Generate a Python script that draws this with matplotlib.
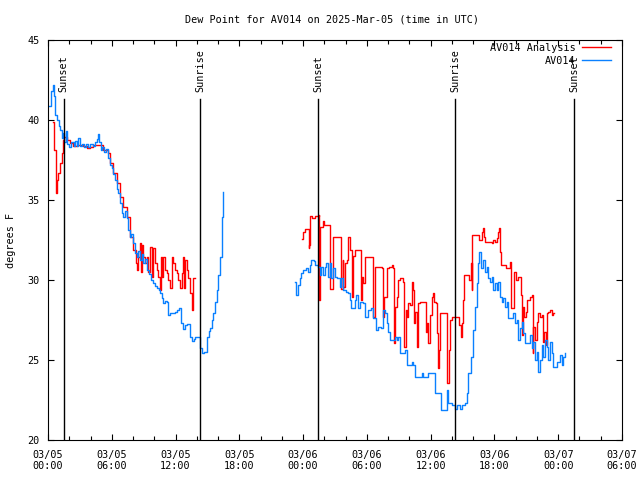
import matplotlib
matplotlib.use('Agg')
import matplotlib.pyplot as plt
import matplotlib.transforms as mtransforms

plt.rcParams['font.family'] = ['DejaVu Sans Mono']

# hours since 2025-03-05 00:00 UTC, dew point in deg F
red_hours_a = [0.50, 0.61, 0.75, 0.87, 0.97, 1.13, 1.29, 1.38, 1.51, 1.76, 2.07, 2.38, 2.70, 3.01,
               3.32, 3.64, 3.95, 4.26, 4.89, 5.20, 5.67, 5.83, 6.14, 6.46, 6.77, 7.08, 7.40, 7.71,
               8.02, 8.28, 8.34, 8.49, 8.65, 8.72, 8.81, 8.97, 9.12, 9.29, 9.44, 9.60, 9.76, 9.91,
               10.07, 10.23, 10.38, 10.54, 10.63, 10.70, 10.85, 11.01, 11.17, 11.32, 11.48, 11.64,
               11.79, 11.95, 12.11, 12.26, 12.42, 12.58, 12.67, 12.79, 12.89, 13.05, 13.20, 13.36,
               13.52, 13.61, 13.83]
red_vals_a = [39.89, 38.1, 35.42, 36.25, 36.67, 37.29, 37.92, 38.75, 38.96, 38.75, 38.54, 38.38, 38.44, 38.44,
              38.38, 38.23, 38.33, 38.44, 38.44, 38.13, 37.92, 37.29, 36.67, 36.04, 35.21, 34.58, 33.96, 32.71,
              31.88, 31.04, 30.63, 31.46, 32.29, 30.52, 32.19, 31.46, 31.04, 31.46, 30.52, 32.08, 30.21, 31.98,
              31.04, 30.63, 30.21, 29.38, 31.46, 30.21, 31.46, 30.63, 30.42, 30.0, 29.48, 31.46,
              31.04, 30.63, 30.42, 30.0, 29.48, 30.42, 31.46, 29.48, 31.25, 30.63, 30.1, 29.17,
              28.13, 30.1, 30.1]

red_hours_b = [23.92, 24.02, 24.18, 24.49, 24.51, 24.58, 24.65, 24.81, 25.12, 25.47, 25.49, 25.59, 25.84,
               25.96, 26.46, 26.53, 26.84, 27.47, 27.54, 27.72, 27.78, 27.94, 28.10, 28.25, 28.41, 28.57,
               28.72, 28.88, 29.35, 29.42, 29.57, 29.66, 29.82, 30.45, 30.55, 30.60, 30.76, 31.39, 31.49,
               31.61, 31.86, 32.11, 32.34, 32.49, 32.55, 32.64, 32.80, 32.95, 33.11, 33.42, 33.52, 33.65,
               33.74, 33.89, 34.05, 34.21, 34.31, 34.43, 34.52, 34.68, 34.84, 34.99, 35.46, 35.56, 35.68,
               35.78, 35.94, 36.10, 36.19, 36.31, 36.50, 36.62, 36.72, 36.81, 36.88, 37.51, 37.56, 37.72,
               37.82, 37.98, 38.60, 38.69, 38.82, 38.92, 39.07, 39.16, 39.54, 39.63, 39.76, 39.86, 39.92,
               40.48, 40.57, 40.80, 40.89, 41.02, 41.11, 41.58, 41.74, 41.89, 42.05, 42.21, 42.36, 42.45,
               42.52, 42.59, 42.99, 43.09, 43.30, 43.46, 43.56, 43.77, 43.84, 44.03, 44.24, 44.40, 44.47,
               44.56, 44.66, 44.78, 44.97, 45.09, 45.34, 45.50, 45.59, 45.65, 45.81, 45.97, 46.12, 46.28,
               46.44, 46.59, 46.69, 46.85, 46.91, 47.07, 47.22, 47.38, 47.54, 47.63]
red_vals_b = [32.54, 33.02, 33.17, 33.17, 31.98, 32.19, 34.0, 33.86, 34.0, 34.06, 28.75, 33.33, 33.71,
              33.44, 33.44, 29.42, 32.67, 32.67, 29.42, 31.25, 29.58, 31.04, 31.25, 32.71, 31.88, 28.96,
              31.5, 31.88, 31.88, 28.75, 30.21, 29.79, 31.46, 31.46, 29.58, 27.71, 30.83, 30.73, 27.71,
              28.96, 30.73, 30.83, 30.94, 30.73, 26.04, 28.33, 28.96, 30.0, 30.1, 29.89, 25.83, 28.13,
              27.71, 28.54, 28.44, 29.89, 29.38, 27.29, 28.02, 25.83, 28.54, 28.64, 28.64, 26.77, 27.29,
              26.04, 27.81, 28.96, 29.21, 28.64, 28.54, 26.67, 24.48, 25.63, 27.92, 27.92, 23.54, 25.63,
              27.5, 27.71, 27.71, 27.19, 26.46, 27.29, 28.75, 30.31, 30.31, 30.0, 31.04, 29.38, 32.81,
              32.81, 32.5, 33.02, 33.23, 32.71, 32.4, 32.4, 32.29, 32.5, 32.4, 32.6, 33.02, 33.23,
              31.77, 30.94, 30.94, 30.73, 30.73, 31.14, 28.23, 28.23, 30.52, 30.0, 30.21, 30.21, 29.06,
              26.56, 28.33, 27.71, 28.02, 28.75, 28.96, 29.06, 25.42, 27.08, 26.25, 27.39, 27.92, 27.71,
              27.81, 26.14, 26.77, 25.94, 27.92, 28.02, 28.13, 27.81, 27.92, 27.92]

blue_hours_a = [0.10, 0.30, 0.44, 0.55, 0.70, 0.85, 1.00, 1.13, 1.30, 1.41, 1.55, 1.69, 1.80, 2.00,
                2.20, 2.40, 2.54, 2.70, 2.82, 3.00, 3.20, 3.40, 3.60, 3.76, 3.95, 4.20, 4.40, 4.60,
                4.70, 4.80, 4.95, 5.08, 5.25, 5.46, 5.64, 5.83, 5.99, 6.15, 6.30, 6.45, 6.61, 6.80,
                6.95, 7.08, 7.25, 7.40, 7.55, 7.71, 7.85, 8.02, 8.15, 8.34, 8.50, 8.65, 8.80, 8.97,
                9.10, 9.29, 9.50, 9.70, 9.91, 10.05, 10.23, 10.40, 10.54, 10.70, 10.85, 11.00, 11.17,
                11.32, 11.48, 11.76, 11.95, 12.11, 12.32, 12.48, 12.67, 12.89, 13.10, 13.36, 13.52,
                13.70, 13.83, 14.14, 14.30, 14.46, 14.68, 14.93, 15.10, 15.24, 15.40, 15.55, 15.70,
                15.87, 16.00, 16.18, 16.34, 16.49]
blue_vals_a = [40.9, 41.8, 42.2, 41.5, 40.3, 40.0, 39.6, 39.4, 38.9, 39.2, 38.6, 39.3, 38.5, 38.3,
               38.6, 38.4, 38.7, 38.4, 38.9, 38.4, 38.5, 38.3, 38.5, 38.3, 38.5, 38.4, 38.6, 38.8,
               39.1, 38.6, 38.1, 38.3, 38.0, 38.2, 37.6, 37.2, 37.0, 36.6, 36.25, 35.7, 35.44, 34.8,
               34.2, 33.96, 34.3, 33.88, 33.1, 32.71, 32.9, 32.31, 31.7, 31.46, 31.8, 31.25, 31.6, 31.06,
               31.3, 30.63, 30.4, 30.0, 29.81, 29.6, 29.5, 29.4, 29.19, 28.9, 28.56, 28.7, 28.63,
               27.81, 27.94, 27.94, 28.0, 28.13, 28.25, 27.31, 26.94, 27.19, 27.25, 26.44, 26.19,
               26.3, 26.44, 26.44, 25.75, 25.46, 25.52, 26.46, 26.8, 27.0, 27.5, 27.94, 28.6,
               29.38, 30.3, 31.46, 33.96, 35.52]

blue_hours_b = [23.21, 23.36, 23.52, 23.68, 23.83, 23.99, 24.30, 24.46, 24.62, 24.77, 25.02, 25.15,
                25.40, 25.56, 25.71, 25.87, 26.03, 26.18, 26.34, 26.50, 26.65, 26.81, 26.97, 27.22,
                27.44, 27.59, 27.75, 28.06, 28.22, 28.38, 28.53, 28.85, 29.00, 29.16, 29.32, 29.63,
                29.79, 30.10, 30.41, 30.57, 30.88, 31.04, 31.35, 31.51, 31.67, 31.86, 31.98, 32.17,
                32.46, 32.62, 32.80, 32.95, 33.11, 33.42, 33.58, 33.74, 34.05, 34.21, 34.37, 34.53,
                34.99, 35.15, 35.31, 35.78, 36.25, 36.41, 36.88, 36.97, 37.35, 37.51, 37.66, 37.98,
                38.29, 38.50, 38.76, 38.92, 39.23, 39.39, 39.54, 39.79, 40.01, 40.17, 40.33, 40.48,
                40.57, 40.73, 40.95, 41.11, 41.27, 41.42, 41.58, 41.74, 41.89, 42.05, 42.21, 42.36,
                42.52, 42.68, 42.83, 42.99, 43.15, 43.30, 43.62, 43.77, 43.93, 44.09, 44.24, 44.40,
                44.56, 44.71, 44.87, 45.18, 45.34, 45.50, 45.65, 45.81, 45.97, 46.12, 46.28, 46.44,
                46.59, 46.75, 46.91, 47.07, 47.22, 47.38, 47.54, 47.86, 48.17, 48.33, 48.48, 48.64]
blue_vals_b = [29.89, 29.06, 29.69, 30.13, 30.44, 30.63, 30.75, 30.52, 30.94, 31.25, 31.21, 30.94,
               30.83, 30.31, 30.83, 30.31, 30.83, 31.04, 30.21, 31.04, 30.11, 30.73, 30.21, 30.11,
               29.58, 30.11, 29.38, 29.27, 29.17, 28.75, 28.23, 28.75, 29.06, 28.23, 28.64, 28.54,
               27.71, 28.13, 28.23, 27.61, 26.88, 27.08, 26.98, 28.13, 27.92, 27.29, 26.77, 26.25,
               26.25, 26.46, 26.25, 26.46, 25.42, 25.42, 25.63, 24.69, 24.69, 24.89, 24.69, 23.96,
               23.96, 24.17, 23.96, 24.21, 24.21, 22.92, 22.92, 21.88, 21.88, 23.13, 22.29, 22.19,
               21.92, 22.19, 21.92, 22.19, 22.29, 22.92, 24.17, 25.21, 26.88, 28.33, 29.79, 31.04,
               31.73, 30.73, 31.25, 30.52, 30.83, 30.11, 29.89, 30.21, 29.38, 29.79, 29.38, 29.89,
               28.96, 28.64, 28.86, 28.33, 28.64, 27.61, 27.61, 27.92, 27.29, 27.5, 26.25, 26.98,
               27.39, 26.67, 26.04, 26.04, 26.56, 25.73, 26.14, 25.0, 25.52, 24.27, 25.0, 25.94,
               25.21, 26.25, 25.83, 25.0, 26.14, 25.42, 24.58, 24.89, 25.31, 24.69, 25.21, 25.42]

sun_events = [1.46, 14.30, 25.40, 38.30, 49.50]
sun_labels = ['Sunset', 'Sunrise', 'Sunset', 'Sunrise', 'Sunset']

tick_hours = [0, 6, 12, 18, 24, 30, 36, 42, 48, 54]
tick_labels = ['03/05\n00:00', '03/05\n06:00', '03/05\n12:00', '03/05\n18:00', '03/06\n00:00',
               '03/06\n06:00', '03/06\n12:00', '03/06\n18:00', '03/07\n00:00', '03/07\n06:00']

red = '#ff0000'
blue = '#0a80ff'
fs = 7.3

fig = plt.figure(figsize=(6.4, 4.8), dpi=100)
ax = fig.add_axes([48 / 640, 40 / 480, 574 / 640, 400 / 480])

ax.plot(red_hours_a, red_vals_a, color=red, lw=1.0, drawstyle='steps-post', label='AV014 Analysis')
ax.plot(red_hours_b, red_vals_b, color=red, lw=1.0, drawstyle='steps-post')
ax.plot(blue_hours_a, blue_vals_a, color=blue, lw=1.0, drawstyle='steps-post', label='AV014')
ax.plot(blue_hours_b, blue_vals_b, color=blue, lw=1.0, drawstyle='steps-post')

trans = mtransforms.blended_transform_factory(ax.transData, ax.transAxes)
for t, lab in zip(sun_events, sun_labels):
    ax.plot([t, t], [0, 0.8525], color='black', lw=1.0, transform=trans)
    ax.text(t, 0.87, lab, rotation=90, ha='center', va='bottom', fontsize=fs, transform=trans)

ax.set_xlim(0, 54)
ax.set_ylim(20, 45)
ax.set_xticks(tick_hours)
ax.set_xticklabels(tick_labels)
ax.set_xticks(range(0, 55, 2), minor=True)
ax.set_yticks([20, 25, 30, 35, 40, 45])
ax.tick_params(which='both', direction='in', top=True, right=True, labelsize=fs, width=0.8)
ax.tick_params(which='major', length=4.5)
ax.tick_params(which='minor', length=3)
ax.tick_params(axis='x', pad=7)
ax.tick_params(axis='y', pad=6)

fig.text(11 / 640, 0.5, 'degrees F', rotation=90, ha='center', va='center', fontsize=fs)
fig.text(332 / 640, 1 - 19 / 480, 'Dew Point for AV014 on 2025-Mar-05 (time in UTC)',
         ha='center', va='center', fontsize=fs)

ax.legend(loc='upper right', bbox_to_anchor=(611 / 640, 1 - 43 / 480), bbox_transform=fig.transFigure,
          frameon=False, markerfirst=False, fontsize=fs, handlelength=2.9, handletextpad=0.6,
          labelspacing=0.25, borderpad=0, borderaxespad=0)

fig.savefig('out.png', dpi=100)
